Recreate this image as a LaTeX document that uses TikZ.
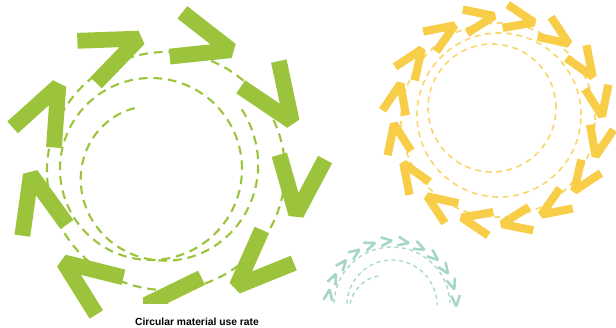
\documentclass[tikz,border=0pt]{standalone}
\usepackage{fontspec}
\setmainfont{Liberation Sans}
\usetikzlibrary{calc}
\definecolor{leafgreen}{RGB}{155,196,60}
\definecolor{sunyellow}{RGB}{248,205,72}
\definecolor{mint}{RGB}{165,214,198}
\tikzset{chev/.pic={\draw[pic actions] (-28,23) -- (29,0) -- (-28,-23);}}

\begin{document}
\begin{tikzpicture}[x=0.030cm,y=0.030cm,
 gchev/.style={draw=leafgreen,line width=13.5pt,line join=bevel},
 ychev/.style={draw=sunyellow,line width=7pt,line join=bevel,scale=0.52},
 tchev/.style={draw=mint,line width=2.2pt,line join=bevel,scale=0.19},
 gdash/.style={draw=leafgreen,line width=1.8pt,dash pattern=on 7.5pt off 5pt},
 ydash/.style={draw=sunyellow!80!white,line width=1.4pt,dash pattern=on 5pt off 4pt},
 tdash/.style={draw=mint,line width=1.1pt,dash pattern=on 3.5pt off 3pt},
 capt/.style={font=\bfseries\fontsize{8.8}{10}\selectfont,inner sep=1pt}]
\useasboundingbox (0,0) rectangle (616,327);
\coordinate (gc) at (166,156);
\coordinate (yc) at (498,207);
\coordinate (tc) at (392,22);
% green loop
\draw[gdash] (gc) circle[radius=119];
\draw[gdash] (151,158) circle[radius=91];
\draw[gdash] plot[domain=110:400,samples=60,smooth] ({158+(68+0.1276*(\x-110))*cos(\x)},{155+(68+0.1276*(\x-110))*sin(\x)});
\pic[gchev,rotate=24] at ($(gc)+(114:132)$) {chev};
\pic[gchev,rotate=-16] at ($(gc)+(74:134)$) {chev};
\pic[gchev,rotate=-56] at ($(gc)+(34:132)$) {chev};
\pic[gchev,rotate=-96] at ($(gc)+(-6:134)$) {chev};
\pic[gchev,rotate=-136] at ($(gc)+(-46:132)$) {chev};
\begin{scope}
\clip (0,24) rectangle (616,327);
\pic[gchev,rotate=-176] at ($(gc)+(-86:132)$) {chev};
\end{scope}
\pic[gchev,rotate=144] at ($(gc)+(-126:134)$) {chev};
\pic[gchev,rotate=104] at ($(gc)+(-166:132)$) {chev};
\pic[gchev,rotate=64] at ($(gc)+(154:134)$) {chev};
% yellow loop
\draw[ydash] (yc) circle[radius=97];
\draw[ydash] (499,212) circle[radius=82];
\draw[ydash] (492,219) circle[radius=64];
\pic[ychev,rotate=33] at ($(yc)+(123:103)$) {chev};
\pic[ychev,rotate=10.5] at ($(yc)+(100.5:103)$) {chev};
\pic[ychev,rotate=-12] at ($(yc)+(78:103)$) {chev};
\pic[ychev,rotate=-34.5] at ($(yc)+(55.5:103)$) {chev};
\pic[ychev,rotate=-57] at ($(yc)+(33:103)$) {chev};
\pic[ychev,rotate=-79.5] at ($(yc)+(10.5:103)$) {chev};
\pic[ychev,rotate=-102] at ($(yc)+(-12:103)$) {chev};
\pic[ychev,rotate=-124.5] at ($(yc)+(-34.5:103)$) {chev};
\pic[ychev,rotate=-147] at ($(yc)+(-57:103)$) {chev};
\pic[ychev,rotate=-169.5] at ($(yc)+(-79.5:103)$) {chev};
\pic[ychev,rotate=168] at ($(yc)+(-102:103)$) {chev};
\pic[ychev,rotate=145.5] at ($(yc)+(-124.5:103)$) {chev};
\pic[ychev,rotate=123] at ($(yc)+(-147:103)$) {chev};
\pic[ychev,rotate=100.5] at ($(yc)+(-169.5:103)$) {chev};
\pic[ychev,rotate=78] at ($(yc)+(168:103)$) {chev};
\pic[ychev,rotate=55.5] at ($(yc)+(145.5:103)$) {chev};
% mint arc
\draw[tdash] ($(tc)+(178:58)$) arc[start angle=178,end angle=2,radius=58];
\draw[tdash] ($(tc)+(178:45)$) arc[start angle=178,end angle=0,radius=45];
\draw[tdash] plot[domain=115:178,samples=20,smooth] ({392+(32+0.16*(\x-115))*cos(\x)},{22+(32+0.16*(\x-115))*sin(\x)});
\pic[tchev,rotate=81] at ($(tc)+(171:64)$) {chev};
\pic[tchev,rotate=65.8] at ($(tc)+(155.8:64)$) {chev};
\pic[tchev,rotate=50.6] at ($(tc)+(140.6:64)$) {chev};
\pic[tchev,rotate=35.4] at ($(tc)+(125.4:64)$) {chev};
\pic[tchev,rotate=20.2] at ($(tc)+(110.2:64)$) {chev};
\pic[tchev,rotate=5] at ($(tc)+(95:64)$) {chev};
\pic[tchev,rotate=-10.2] at ($(tc)+(79.8:64)$) {chev};
\pic[tchev,rotate=-25.4] at ($(tc)+(64.6:64)$) {chev};
\pic[tchev,rotate=-40.6] at ($(tc)+(49.4:64)$) {chev};
\pic[tchev,rotate=-55.8] at ($(tc)+(34.2:64)$) {chev};
\pic[tchev,rotate=-71] at ($(tc)+(19:64)$) {chev};
\pic[tchev,rotate=-86.2] at ($(tc)+(3.8:64)$) {chev};
\node[capt] (caption) at (197,5) {Circular material use rate};
\end{tikzpicture}
\end{document}
